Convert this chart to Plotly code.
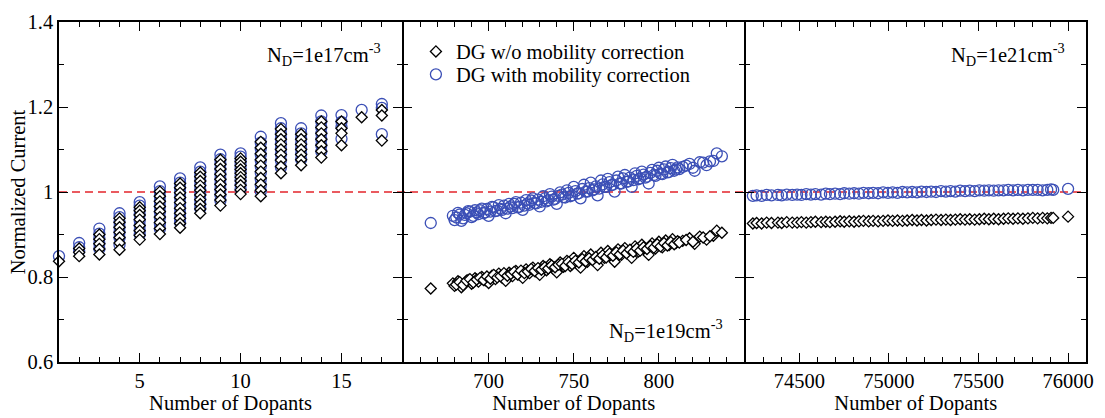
import plotly.graph_objects as go

# ---------------- data ----------------
# N_D = 1e17 cm^-3 : number of dopants (integer) and normalized current
low_n = ([1] + [2] * 3 + [3] * 5 + [4] * 7 + [5] * 8 + [6] * 9 + [7] * 10 + [8] * 10
         + [9] * 10 + [10] * 10 + [11] * 10 + [12] * 9 + [13] * 7 + [14] * 7 + [15] * 4
         + [16] + [17] * 3)
low_wo = [
    0.837,
    0.867, 0.858, 0.849,
    0.900, 0.889, 0.878, 0.866, 0.853,
    0.938, 0.929, 0.917, 0.905, 0.893, 0.880, 0.864,
    0.964, 0.956, 0.946, 0.935, 0.921, 0.909, 0.898, 0.888,
    1.001, 0.990, 0.978, 0.966, 0.954, 0.941, 0.928, 0.914, 0.901,
    1.020, 1.010, 0.998, 0.987, 0.975, 0.962, 0.950, 0.938, 0.926, 0.916,
    1.046, 1.036, 1.026, 1.015, 1.004, 0.993, 0.982, 0.971, 0.960, 0.950,
    1.076, 1.065, 1.054, 1.042, 1.030, 1.018, 1.006, 0.994, 0.981, 0.968,
    1.079, 1.071, 1.062, 1.053, 1.044, 1.035, 1.026, 1.016, 1.005, 0.995,
    1.118, 1.104, 1.090, 1.076, 1.062, 1.048, 1.033, 1.018, 1.004, 0.990,
    1.148, 1.136, 1.124, 1.112, 1.100, 1.088, 1.075, 1.060, 1.044,
    1.136, 1.124, 1.112, 1.100, 1.088, 1.076, 1.063,
    1.166, 1.152, 1.138, 1.124, 1.110, 1.096, 1.081,
    1.166, 1.150, 1.138, 1.110,
    1.176,
    1.193, 1.180, 1.121,
]
low_with = [
    0.849,
    0.880, 0.870, 0.861,
    0.914, 0.902, 0.891, 0.879, 0.866,
    0.950, 0.941, 0.929, 0.917, 0.905, 0.892, 0.876,
    0.976, 0.968, 0.958, 0.947, 0.933, 0.921, 0.910, 0.900,
    1.013, 1.002, 0.990, 0.978, 0.966, 0.953, 0.940, 0.926, 0.913,
    1.032, 1.022, 1.010, 0.999, 0.987, 0.974, 0.962, 0.950, 0.938, 0.928,
    1.058, 1.048, 1.038, 1.027, 1.016, 1.005, 0.994, 0.983, 0.972, 0.962,
    1.088, 1.077, 1.066, 1.054, 1.042, 1.030, 1.018, 1.006, 0.993, 0.980,
    1.091, 1.083, 1.074, 1.065, 1.056, 1.047, 1.038, 1.028, 1.017, 1.007,
    1.130, 1.116, 1.102, 1.088, 1.074, 1.060, 1.045, 1.030, 1.016, 1.002,
    1.162, 1.150, 1.138, 1.126, 1.114, 1.102, 1.089, 1.074, 1.058,
    1.150, 1.138, 1.126, 1.114, 1.102, 1.090, 1.077,
    1.180, 1.166, 1.152, 1.138, 1.124, 1.110, 1.095,
    1.181, 1.165, 1.153, 1.125,
    1.193,
    1.207, 1.198, 1.136,
]

# N_D = 1e19 cm^-3
mid_n = [666, 679, 680, 682, 684, 686, 688, 690, 692, 694, 696, 698, 700, 702, 704,
         706, 708, 710, 712, 714, 716, 718, 720, 722, 724, 726, 728, 730, 732, 734,
         736, 738, 740, 742, 744, 746, 748, 750, 752, 754, 756, 758, 760, 762, 764,
         766, 768, 770, 772, 774, 776, 778, 780, 782, 784, 786, 788, 790, 792, 794,
         796, 798, 800, 802, 804, 806, 808, 810, 814, 818, 821, 824, 828, 832, 834, 837,
         681, 683, 685, 687, 689, 691, 693, 695, 697, 699, 701, 703, 705, 707, 709,
         711, 713, 715, 717, 719, 721, 723, 725, 727, 729, 731, 733, 735, 737, 739,
         741, 743, 745, 747, 749, 751, 753, 755, 757, 759, 761, 763, 765, 767, 769,
         771, 773, 775, 777, 779, 781, 783, 785, 787, 789, 791, 793, 795, 797, 799,
         801, 803, 805, 807, 809, 811, 812, 816, 820, 826, 830]
mid_wo = [0.773, 0.785, 0.779, 0.790, 0.776, 0.786, 0.793, 0.784, 0.797, 0.789, 0.800,
          0.792, 0.786, 0.803, 0.795, 0.808, 0.798, 0.791, 0.810, 0.802, 0.814, 0.805,
          0.798, 0.818, 0.809, 0.822, 0.812, 0.805, 0.826, 0.816, 0.830, 0.819, 0.811,
          0.834, 0.824, 0.838, 0.826, 0.845, 0.832, 0.822, 0.849, 0.836, 0.853, 0.840,
          0.828, 0.857, 0.845, 0.861, 0.848, 0.836, 0.865, 0.852, 0.868, 0.856, 0.845,
          0.872, 0.860, 0.876, 0.864, 0.852, 0.879, 0.867, 0.883, 0.870, 0.886, 0.875,
          0.889, 0.880, 0.885, 0.891, 0.878, 0.895, 0.888, 0.897, 0.909, 0.904,
          0.782, 0.788, 0.781, 0.791, 0.795, 0.787, 0.794, 0.798, 0.793, 0.801,
          0.796, 0.805, 0.799, 0.802, 0.809, 0.803, 0.807, 0.812, 0.806, 0.815,
          0.809, 0.813, 0.819, 0.814, 0.821, 0.817, 0.823, 0.820, 0.827, 0.823,
          0.829, 0.831, 0.826, 0.835, 0.830, 0.838, 0.834, 0.842, 0.837, 0.844,
          0.840, 0.847, 0.843, 0.851, 0.846, 0.855, 0.850, 0.858, 0.853, 0.862,
          0.856, 0.864, 0.859, 0.867, 0.862, 0.870, 0.866, 0.873, 0.869, 0.877,
          0.872, 0.880, 0.874, 0.882, 0.877, 0.884, 0.881, 0.887, 0.883, 0.893, 0.896]
mid_with = [0.927, 0.944, 0.934, 0.951, 0.932, 0.946, 0.955, 0.941, 0.957, 0.948, 0.961,
            0.952, 0.944, 0.965, 0.955, 0.969, 0.958, 0.950, 0.972, 0.962, 0.976, 0.965,
            0.958, 0.981, 0.970, 0.985, 0.973, 0.966, 0.990, 0.978, 0.995, 0.982, 0.972,
            0.999, 0.988, 1.004, 0.990, 1.012, 0.996, 0.985, 1.017, 1.001, 1.022, 1.006,
            0.992, 1.027, 1.012, 1.031, 1.016, 1.001, 1.036, 1.020, 1.040, 1.025, 1.012,
            1.044, 1.030, 1.048, 1.034, 1.020, 1.052, 1.038, 1.057, 1.042, 1.060, 1.047,
            1.064, 1.053, 1.059, 1.066, 1.050, 1.070, 1.063, 1.073, 1.091, 1.084,
            0.940, 0.947, 0.938, 0.950, 0.954, 0.944, 0.952, 0.957, 0.950, 0.960,
            0.954, 0.964, 0.956, 0.960, 0.968, 0.961, 0.966, 0.972, 0.964, 0.975,
            0.968, 0.973, 0.980, 0.974, 0.982, 0.977, 0.985, 0.981, 0.989, 0.984,
            0.991, 0.994, 0.987, 0.998, 0.992, 1.002, 0.997, 1.007, 1.001, 1.009,
            1.004, 1.013, 1.008, 1.018, 1.012, 1.023, 1.017, 1.027, 1.020, 1.032,
            1.024, 1.034, 1.028, 1.038, 1.032, 1.041, 1.036, 1.045, 1.040, 1.050,
            1.043, 1.053, 1.046, 1.056, 1.050, 1.058, 1.054, 1.062, 1.057, 1.069, 1.072]

# N_D = 1e21 cm^-3
high_n = [74241, 74262, 74290, 74318, 74345, 74381, 74402, 74430, 74461, 74488,
          74512, 74539, 74565, 74590, 74622, 74648, 74671, 74700, 74728, 74751,
          74779, 74806, 74833, 74858, 74887, 74912, 74940, 74968, 74995, 75021,
          75048, 75076, 75102, 75130, 75157, 75182, 75210, 75236, 75263, 75291,
          75318, 75344, 75371, 75398, 75425, 75451, 75479, 75505, 75532, 75558,
          75585, 75612, 75640, 75666, 75693, 75720, 75748, 75776, 75803, 75830,
          75858, 75884, 75905, 75917, 76000]
high_wo = [0.926, 0.927, 0.926, 0.928, 0.927, 0.928, 0.927, 0.929, 0.928, 0.928,
           0.929, 0.928, 0.929, 0.930, 0.929, 0.930, 0.929, 0.930, 0.931, 0.930,
           0.931, 0.930, 0.931, 0.932, 0.931, 0.932, 0.931, 0.932, 0.933, 0.932,
           0.933, 0.932, 0.933, 0.934, 0.933, 0.934, 0.933, 0.934, 0.935, 0.934,
           0.935, 0.934, 0.935, 0.936, 0.935, 0.936, 0.935, 0.936, 0.937, 0.936,
           0.937, 0.936, 0.937, 0.938, 0.937, 0.938, 0.937, 0.938, 0.939, 0.938,
           0.939, 0.938, 0.939, 0.939, 0.942]
high_with = [0.991, 0.992, 0.991, 0.993, 0.992, 0.993, 0.992, 0.994, 0.993, 0.994,
             0.993, 0.995, 0.994, 0.995, 0.994, 0.996, 0.995, 0.996, 0.995, 0.997,
             0.996, 0.997, 0.996, 0.998, 0.997, 0.998, 0.997, 0.999, 0.998, 0.999,
             0.998, 1.000, 0.999, 1.000, 0.999, 1.001, 1.000, 1.001, 1.000, 1.002,
             1.001, 1.002, 1.001, 1.003, 1.002, 1.003, 1.002, 1.004, 1.003, 1.004,
             1.003, 1.004, 1.004, 1.005, 1.004, 1.005, 1.004, 1.005, 1.005, 1.005,
             1.004, 1.005, 1.006, 1.005, 1.0075]

panels = [
    (low_n, low_wo, low_with, "x", "y"),
    (mid_n, mid_wo, mid_with, "x2", "y2"),
    (high_n, high_wo, high_with, "x3", "y3"),
]
name_wo = "DG w/o mobility correction"
name_with = "DG with mobility correction"
x_ticks = [[5, 10, 15], [700, 750, 800], [74500, 75000, 75500, 76000]]
y_ticks = [0.6, 0.8, 1.0, 1.2, 1.4]
y_text = ["0.6", "0.8", "1", "1.2", "1.4"]

# ---------------- styles ----------------
FONT = "Liberation Serif, Times New Roman, DejaVu Serif, serif"
BLUE = "#3b4fb6"
RED = "#e3242b"
LW = 1.5          # frame line width
PW = 1033         # plot-area width in px (1105 - 59 - 13)
PH = 356          # plot-area height in px (418 - 11 - 51)
GAP = LW / PW     # lets neighbouring frames share one line

fig = go.Figure()

for i, (n, wo, wi, xa, ya) in enumerate(panels):
    fig.add_trace(go.Scatter(
        x=n, y=wi, mode="markers", name=name_with, xaxis=xa, yaxis=ya,
        legend="legend2", showlegend=(i == 1), cliponaxis=False,
        marker=dict(symbol="circle-open", size=11, color=BLUE,
                    line=dict(color=BLUE, width=1.3)),
    ))
    fig.add_trace(go.Scatter(
        x=n, y=wo, mode="markers", name=name_wo, xaxis=xa, yaxis=ya,
        legend="legend", showlegend=(i == 1), cliponaxis=False,
        marker=dict(symbol="diamond", size=8.5, color="white",
                    line=dict(color="black", width=1.3)),
    ))

tfont = dict(family=FONT, size=20.5, color="black")
axis_common = dict(
    showline=True, linecolor="black", linewidth=LW, mirror="ticks",
    ticks="inside", ticklen=9, tickwidth=1.2, tickcolor="black",
    showgrid=False, zeroline=False, tickfont=tfont,
)


def minor(step):
    return dict(ticks="inside", ticklen=5, tickwidth=1.2, tickcolor="black",
                tickmode="linear", tick0=0, dtick=step)


def legend_at(y_px):
    # one-entry legend placed by the pixel height of its box centre
    return dict(x=(418 - 59) / PW, y=(367 - y_px) / PH, xanchor="left",
                yanchor="middle", bgcolor="rgba(0,0,0,0)", font=tfont)


x_title = dict(text="Number of Dopants", font=tfont, standoff=0)

fig.update_layout(
    width=1105, height=418,
    margin=dict(l=59, r=13, t=11, b=51),
    paper_bgcolor="white", plot_bgcolor="white",
    font=tfont,
    xaxis=dict(domain=[0, 0.334], anchor="y", range=[1, 18],
               tickvals=x_ticks[0], ticktext=[str(v) for v in x_ticks[0]],
               title=x_title, minor=minor(1), **axis_common),
    xaxis2=dict(domain=[0.334 + GAP, 0.667], anchor="y2", range=[650, 850],
                tickvals=x_ticks[1], ticktext=[str(v) for v in x_ticks[1]],
                title=x_title, minor=minor(10), **axis_common),
    xaxis3=dict(domain=[0.667 + GAP, 1], anchor="y3", range=[74200, 76100],
                tickvals=x_ticks[2], ticktext=[str(v) for v in x_ticks[2]],
                title=x_title, minor=minor(100), **axis_common),
    yaxis=dict(anchor="x", range=[0.6, 1.4], tickvals=y_ticks, ticktext=y_text,
               minor=minor(0.1), **axis_common),
    yaxis2=dict(anchor="x2", range=[0.6, 1.4], tickvals=y_ticks, showticklabels=False,
                minor=minor(0.1), **axis_common),
    yaxis3=dict(anchor="x3", range=[0.6, 1.4], tickvals=y_ticks, showticklabels=False,
                minor=minor(0.1), **axis_common),
    legend=legend_at(42),
    legend2=legend_at(66),
)

# y-axis title, shared by the three panels
fig.add_annotation(text="Normalized Current", xref="paper", yref="paper",
                   x=(18 - 59) / PW, y=0.5, xanchor="center", yanchor="middle",
                   textangle=-90, showarrow=False, font=tfont)

# reference level at normalized current = 1
fig.add_shape(type="line", xref="paper", yref="y", x0=0, x1=1, y0=1, y1=1,
              line=dict(color=RED, width=1.5, dash="8px,5px"), layer="below")

# doping-level labels
labels = [
    ("N<sub>D</sub>=1e17cm<sup>-3</sup>", 0.3156, 0.904),
    ("N<sub>D</sub>=1e19cm<sup>-3</sup>", 0.6486, 0.094),
    ("N<sub>D</sub>=1e21cm<sup>-3</sup>", 0.9816, 0.904),
]
for txt, xp, yp in labels:
    fig.add_annotation(text=txt, xref="paper", yref="paper", x=xp, y=yp,
                       xanchor="right", yanchor="middle", showarrow=False,
                       font=tfont)

fig.write_html("out.html")
